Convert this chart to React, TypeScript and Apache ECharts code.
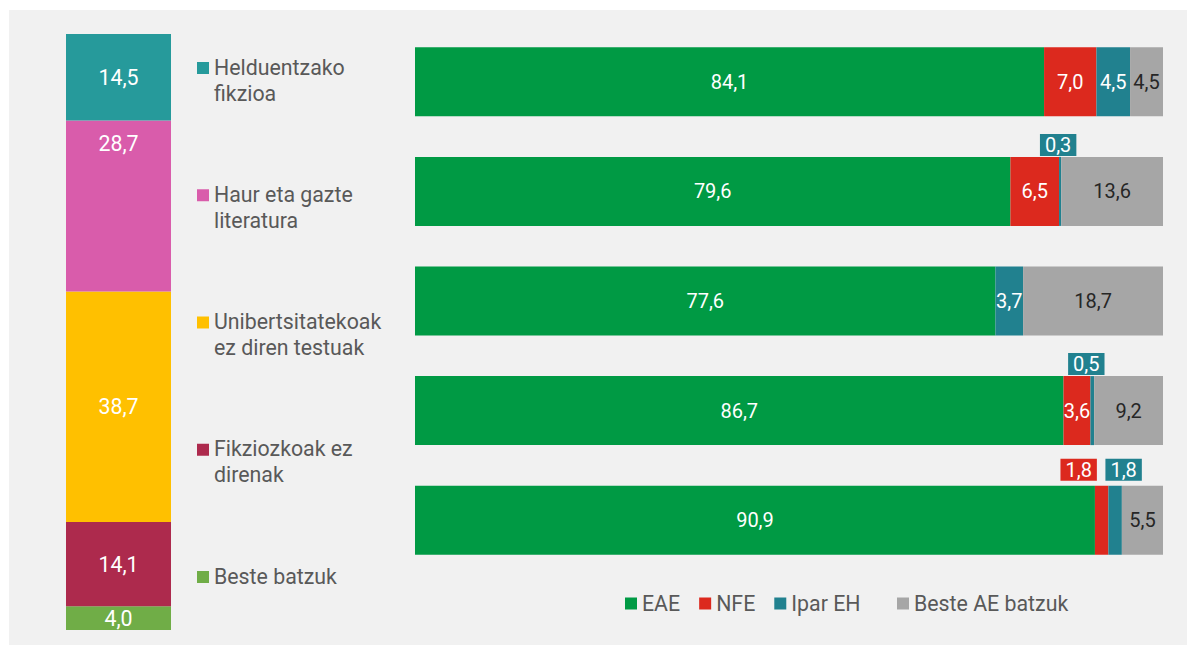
import React, { useEffect, useRef } from "react";
import * as echarts from "echarts";

// Left stacked column (share by category)
const leftCategories = [
  "Helduentzako\nfikzioa",
  "Haur eta gazte\nliteratura",
  "Unibertsitatekoak\nez diren testuak",
  "Fikziozkoak ez\ndirenak",
  "Beste batzuk",
];
const leftValues = [14.5, 28.7, 38.7, 14.1, 4.0];
const leftColors = ["#269a9b", "#d95cab", "#ffc000", "#ad2a4d", "#70ad47"];

// Right horizontal stacked bars (one row per category)
const rowNames = [
  "Helduentzako fikzioa",
  "Haur eta gazte literatura",
  "Unibertsitatekoak ez diren testuak",
  "Fikziozkoak ez direnak",
  "Beste batzuk",
];
const seriesNames = ["EAE", "NFE", "Ipar EH", "Beste AE batzuk"];
const eaeValues = [84.1, 79.6, 77.6, 86.7, 90.9];
const nfeValues = [7.0, 6.5, 0, 3.6, 1.8];
const iparValues = [4.5, 0.3, 3.7, 0.5, 1.8];
const besteValues = [4.5, 13.6, 18.7, 9.2, 5.5];
const rightColors = ["#009a44", "#dc291e", "#21818f", "#a6a6a6"];
const rightLabelColors = ["#ffffff", "#ffffff", "#ffffff", "#262626"];

const FONT = "Roboto";
const BIG = 21.33;
const fmt = (v: number) => (v ? v.toFixed(1).replace(".", ",") : "");

// labels drawn above the bar for small segments: [seriesIdx-rowIdx] -> [dx, distance]
const aboveLabels: Record<string, [number, number]> = {
  "2-1": [-2, 1],
  "2-3": [-6, 1],
  "1-4": [-23, 5],
  "2-4": [8.5, 5],
};

export default function App() {
  const ref = useRef<HTMLDivElement>(null);
  useEffect(() => {
    if (!ref.current) return;
    const chart = echarts.init(ref.current, undefined, { renderer: "svg" });

    const leftSeries: any[] = [];
    for (let i = leftValues.length - 1; i >= 0; i--) {
      const isTopLabel = i === 1;
      leftSeries.push({
        type: "bar",
        name: leftCategories[i],
        stack: "L",
        xAxisIndex: 0,
        yAxisIndex: 0,
        barWidth: "100%",
        data: [leftValues[i]],
        itemStyle: { color: leftColors[i] },
        label: {
          show: true,
          position: isTopLabel ? "insideTop" : "inside",
          distance: isTopLabel ? 13 : 5,
          color: "#ffffff",
          fontFamily: FONT,
          fontSize: BIG,
          formatter: (p: any) => fmt(p.value),
        },
      });
    }

    const rightData = [eaeValues, nfeValues, iparValues, besteValues];
    const rightSeries = rightData.map((vals, si) => ({
      type: "bar",
      name: seriesNames[si],
      stack: "R",
      xAxisIndex: 1,
      yAxisIndex: 1,
      barWidth: 69,
      itemStyle: { color: rightColors[si] },
      label: {
        show: true,
        position: "inside",
        color: rightLabelColors[si],
        fontFamily: FONT,
        fontSize: 20,
        formatter: (p: any) => fmt(p.value),
      },
      data: vals.map((v, ri) => {
        const above = aboveLabels[`${si}-${ri}`];
        if (!above) return v;
        return {
          value: v,
          label: {
            show: true,
            position: "top",
            distance: above[1],
            offset: [above[0], 0],
            color: "#ffffff",
            backgroundColor: rightColors[si],
            padding: [1, 5, 1, 5],
            lineHeight: 20,
            fontSize: 20,
          },
        };
      }),
    }));

    const legendGraphics: any[] = [];
    leftCategories.forEach((name, i) => {
      const cy = 68 + i * 127.25;
      legendGraphics.push({
        type: "rect",
        shape: { x: 197, y: cy - 6, width: 12, height: 12 },
        style: { fill: leftColors[i] },
      });
      legendGraphics.push({
        type: "text",
        x: 214,
        y: cy - 14,
        style: {
          text: name,
          fontFamily: FONT,
          fontSize: BIG,
          lineHeight: 26,
          fill: "#595959",
          verticalAlign: "top",
        },
      });
    });

    const legendCommon = {
      top: 588,
      icon: "rect",
      itemWidth: 12,
      itemHeight: 12,
      itemGap: 19,
      selectedMode: false,
      textStyle: { fontFamily: FONT, fontSize: BIG, color: "#595959" },
    };

    chart.setOption({
      animation: false,
      textStyle: { fontFamily: FONT },
      grid: [
        { left: 66, top: 34, width: 105, height: 596 },
        { left: 415, top: 27, width: 748, height: 548 },
      ],
      xAxis: [
        { gridIndex: 0, type: "category", data: ["Guztira"], show: false },
        { gridIndex: 1, type: "value", min: 0, max: 100, show: false },
      ],
      yAxis: [
        { gridIndex: 0, type: "value", min: 0, max: 100, show: false },
        { gridIndex: 1, type: "category", data: rowNames, inverse: true, show: false },
      ],
      legend: [
        { ...legendCommon, data: seriesNames.slice(0, 3), left: 620 },
        { ...legendCommon, data: [seriesNames[3]], left: 892 },
      ],
      graphic: legendGraphics,
      series: [...leftSeries, ...rightSeries],
    });
    return () => chart.dispose();
  }, []);

  return (
    <div style={{ position: "absolute", left: 0, top: 0, width: 1187, height: 645, background: "#ffffff" }}>
      <div style={{ position: "absolute", left: 9, top: 10, width: 1178, height: 635, background: "#f1f1f1" }} />
      <div ref={ref} style={{ position: "absolute", left: 0, top: 0, width: 1187, height: 645 }} />
    </div>
  );
}
